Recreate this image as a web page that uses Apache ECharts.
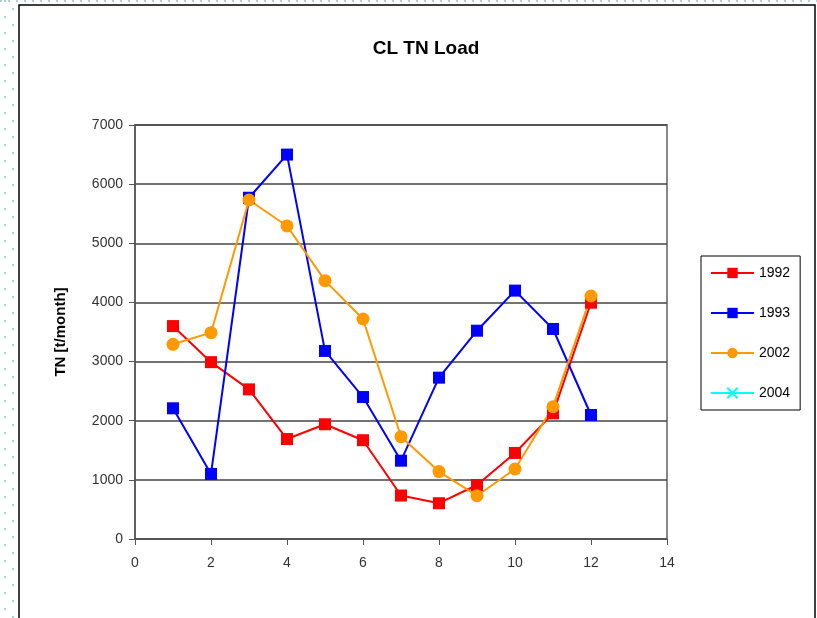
<!DOCTYPE html>
<html><head><meta charset="utf-8">
<script src="https://cdn.jsdelivr.net/npm/echarts@6/dist/echarts.min.js"></script>
<style>html,body{margin:0;padding:0;background:#fff}#c{width:817px;height:618px}</style>
</head><body><div id="c"></div>
<script>
const months = [1,2,3,4,5,6,7,8,9,10,11,12];
const s1992 = [3600,2990,2530,1690,1940,1670,735,605,913,1455,2125,3995];
const s1993 = [2210,1100,5770,6500,3180,2400,1324,2728,3522,4200,3551,2097];
const s2002 = [3292,3489,5732,5293,4368,3720,1730,1140,732,1184,2237,4109];
const s2004 = [];
const yTicks = [0,1000,2000,3000,4000,5000,6000,7000];
const xTicks = [0,2,4,6,8,10,12,14];

const pair = arr => arr.map((v,i)=>[months[i],v]);
const chart = echarts.init(document.getElementById('c'));
const font = 'Liberation Sans, Arial, sans-serif';
chart.setOption({
  animation:false,
  title:{text:'CL TN Load',left:421,top:34,textAlign:'center',
    textStyle:{fontFamily:font,fontSize:19,fontWeight:'bold',color:'#000'}},
  grid:{left:135,right:150,top:125,bottom:79,show:true,borderColor:'#888',borderWidth:2,backgroundColor:'transparent'},
  legend:{orient:'vertical',left:701,top:256,width:100,height:150,
    itemWidth:43,itemHeight:13,itemGap:26,padding:[10,10,10,9],
    borderColor:'#000',borderWidth:1,
    textStyle:{fontFamily:font,fontSize:14,color:'#000'},
    data:['1992','1993','2002','2004']},
  xAxis:{type:'value',min:0,max:14,interval:2,
    axisLine:{show:true,lineStyle:{color:'#555',width:1.5}},
    axisTick:{show:true,inside:false,length:6,lineStyle:{color:'#555'}},
    axisLabel:{fontFamily:font,fontSize:14,color:'#333',margin:17,
      formatter:v=>xTicks.includes(v)?String(v):''},
    splitLine:{show:false}},
  yAxis:{type:'value',min:0,max:7000,interval:1000,
    name:'TN [t/month]',nameLocation:'middle',nameGap:67,nameRotate:90,
    nameTextStyle:{fontFamily:font,fontSize:15,fontWeight:'bold',color:'#000'},
    axisLine:{show:true,lineStyle:{color:'#555',width:1.5}},
    axisTick:{show:true,inside:false,length:6,lineStyle:{color:'#555'}},
    axisLabel:{fontFamily:font,fontSize:14,color:'#333',margin:12,
      formatter:v=>yTicks.includes(v)?String(v):''},
    splitLine:{show:true,lineStyle:{color:'#444',width:1.5}}},
  graphic:[
    {type:'rect',shape:{x:19,y:5,width:796,height:620},style:{fill:'none',stroke:'#000',lineWidth:1.5},silent:true},
    {type:'line',shape:{x1:5,y1:0,x2:5,y2:618},style:{stroke:'#a8d4d8',lineWidth:2,lineDash:[2,14]},silent:true},
    {type:'line',shape:{x1:13,y1:8,x2:13,y2:618},style:{stroke:'#a8d4d8',lineWidth:2,lineDash:[2,14]},silent:true},
    {type:'line',shape:{x1:0,y1:1,x2:817,y2:1},style:{stroke:'#a8d4d8',lineWidth:2,lineDash:[2,6]},silent:true}
  ],
  series:[
    {name:'1992',type:'line',data:pair(s1992),symbol:'rect',symbolSize:12,
      itemStyle:{color:'#ff0000'},lineStyle:{color:'#ff0000',width:2}},
    {name:'1993',type:'line',data:pair(s1993),symbol:'rect',symbolSize:12,
      itemStyle:{color:'#0000ff'},lineStyle:{color:'#0000ff',width:2}},
    {name:'2002',type:'line',data:pair(s2002),symbol:'circle',symbolSize:13,
      itemStyle:{color:'#ff9900'},lineStyle:{color:'#ff9900',width:2}},
    {name:'2004',type:'line',data:pair(s2004),
      symbol:'path://M0,0L10,10M10,0L0,10',symbolSize:10,
      itemStyle:{color:'#00ffff',borderColor:'#00ffff',borderWidth:1.5},lineStyle:{color:'#00ffff',width:2}}
  ]
});
</script></body></html>
